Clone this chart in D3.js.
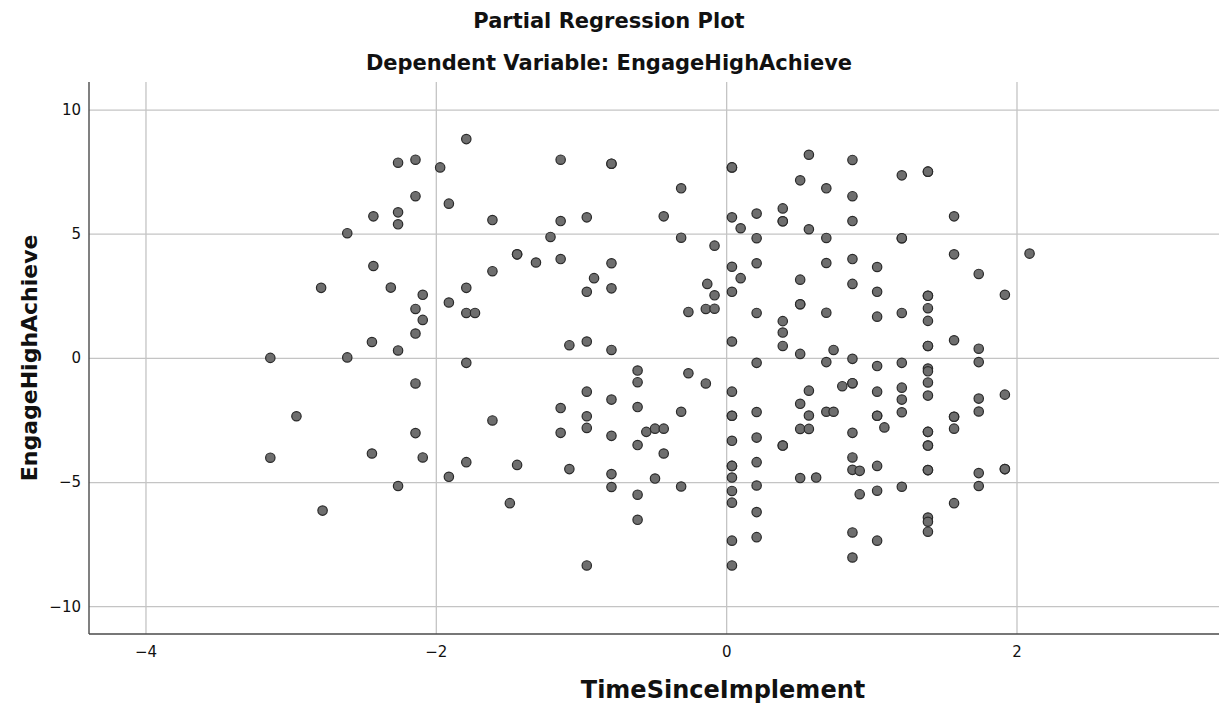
<!DOCTYPE html>
<html>
<head>
<meta charset="utf-8">
<script src="https://cdn.jsdelivr.net/npm/d3@7"></script>
<style>
  body { margin: 0; background: #fff; }
  text { font-family: "DejaVu Sans", sans-serif; fill: #111; }
</style>
</head>
<body>
<div id="chart"></div>
<script>
// partial residuals (x = TimeSinceImplement, y = EngageHighAchieve)
var timeSince = [
  -2.26, -2.14, -1.97, -2.14, -1.91, -2.26, -2.43, -2.26, -2.61, -2.43,
  -2.79, -2.31, -2.09, -1.91, -2.14, -2.09, -2.14, -2.44, -2.26, -3.14,
  -2.61, -2.14, -2.96, -2.14, -3.14, -2.44, -2.09, -1.91, -2.26, -2.78,
  -1.79, -1.14, -0.79, -0.79, -1.61, -1.14, -0.96, -1.21, -1.44, -1.44,
  -1.31, -1.14, -0.79, -1.61, -0.91, -0.96, -0.79, -1.79, -1.79, -1.73,
  -1.08, -0.96, -0.79, -1.79, -0.61, -0.61, -0.96, -0.79, -0.61, -1.14,
  -1.61, -0.96, -0.96, -1.14, -0.79, -0.55, -0.61, -1.79, -1.44, -1.08,
  -0.79, -0.79, -0.61, -1.49, -0.61, -0.96,
  0.57, 0.87, 0.04, 0.04, 0.51, -0.31, 0.69, 0.87, -0.43, 0.04,
  0.21, 0.39, 0.39, 0.39, 0.10, 0.57, 0.87, -0.31, 0.21, 0.69,
  -0.08, 0.04, 0.21, 0.69, 0.87, 0.10, 0.51, -0.13, 0.87, -0.08,
  0.04, 0.51, 0.51, -0.26, -0.14, -0.08, 0.21, 0.69, 0.39, 0.39,
  0.04, 0.39, 0.51, 0.74, 0.21, 0.69, 0.87, -0.26, -0.14, 0.04,
  0.57, 0.80, 0.87, 0.87, -0.31, 0.04, 0.04, 0.21, 0.51, 0.57,
  0.69, 0.74, -0.49, -0.43, 0.04, 0.21, 0.51, 0.57, 0.39, 0.39,
  0.87, -0.43, 0.04, 0.04, 0.21, 0.87, 0.87, 0.92, -0.49, 0.04,
  0.51, 0.62, -0.31, 0.04, 0.21, 0.04, 0.21, 0.21, 0.04, 0.87,
  0.87, 0.04,
  1.21, 1.39, 1.39, 1.57, 1.21, 1.21, 1.04, 1.57, 2.09, 1.74,
  1.04, 1.39, 1.39, 1.92, 1.39, 1.04, 1.21, 1.39, 1.39, 1.39,
  1.57, 1.74, 1.21, 1.74, 1.04, 1.39, 1.39, 1.04, 1.21, 1.21,
  1.39, 1.39, 1.74, 1.92, 1.04, 1.04, 1.09, 1.21, 1.57, 1.57,
  1.57, 1.74, 1.39, 1.39, 1.39, 1.39, 1.04, 1.39, 1.39, 1.74,
  1.92, 1.92, 0.92, 1.04, 1.21, 1.74, 1.57, 1.39, 1.39, 1.39,
  1.04
];
var engageHigh = [
  7.86, 7.98, 7.67, 6.51, 6.21, 5.86, 5.70, 5.38, 5.02, 3.70,
  2.82, 2.83, 2.54, 2.23, 1.97, 1.53, 0.98, 0.64, 0.30, 0.00,
  0.02, -1.03, -2.35, -3.03, -4.02, -3.85, -4.01, -4.79, -5.16, -6.15,
  8.81, 7.98, 7.82, 7.82, 5.55, 5.51, 5.66, 4.87, 4.17, 4.17,
  3.84, 3.98, 3.81, 3.49, 3.21, 2.66, 2.80, 2.82, 1.81, 1.81,
  0.51, 0.66, 0.32, -0.20, -0.51, -0.98, -1.36, -1.68, -1.98, -2.02,
  -2.52, -2.35, -2.82, -3.02, -3.14, -2.98, -3.51, -4.20, -4.31, -4.48,
  -4.68, -5.20, -5.51, -5.85, -6.52, -8.36,
  8.18, 7.97, 7.67, 7.67, 7.15, 6.83, 6.83, 6.51, 5.70, 5.66,
  5.81, 6.02, 5.50, 5.50, 5.22, 5.18, 5.51, 4.84, 4.82, 4.83,
  4.52, 3.67, 3.81, 3.82, 3.98, 3.21, 3.15, 2.98, 2.98, 2.52,
  2.66, 2.16, 2.16, 1.85, 1.97, 1.98, 1.81, 1.82, 1.48, 1.02,
  0.66, 0.48, 0.16, 0.32, -0.20, -0.17, -0.04, -0.62, -1.03, -1.36,
  -1.32, -1.14, -1.02, -1.02, -2.17, -2.33, -2.33, -2.18, -1.85, -2.32,
  -2.17, -2.17, -2.85, -2.85, -3.34, -3.21, -2.86, -2.86, -3.53, -3.53,
  -3.02, -3.85, -4.35, -4.35, -4.20, -4.01, -4.51, -4.55, -4.86, -4.82,
  -4.84, -4.82, -5.18, -5.36, -5.14, -5.83, -6.21, -7.22, -7.36, -7.03,
  -8.04, -8.36,
  7.35, 7.50, 7.50, 5.70, 4.82, 4.82, 3.66, 4.17, 4.20, 3.38,
  2.66, 2.50, 2.50, 2.54, 2.00, 1.66, 1.81, 1.49, 0.48, 0.48,
  0.71, 0.37, -0.20, -0.17, -0.33, -0.43, -0.54, -1.36, -1.20, -1.68,
  -0.99, -1.52, -1.64, -1.48, -2.33, -2.33, -2.80, -2.19, -2.37, -2.37,
  -2.85, -2.16, -2.98, -2.98, -3.53, -3.53, -4.35, -4.52, -4.52, -4.64,
  -4.48, -4.48, -5.49, -5.35, -5.19, -5.16, -5.85, -6.43, -6.60, -7.00,
  -7.36
];
var xTicks = [-4, -2, 0, 2];
var yTicks = [-10, -5, 0, 5, 10];
var xDomain = [-4.389, 3.395];
var yDomain = [-11.12, 11.11];

var titleText = "Partial Regression Plot";
var subtitleText = "Dependent Variable: EngageHighAchieve";
var xLabel = "TimeSinceImplement";
var yLabel = "EngageHighAchieve";

var width = 1221, height = 708;
var plotLeft = 89, plotRight = 1219, plotTop = 82, plotBottom = 634;

var svg = d3.select("#chart")
  .append("svg")
  .attr("width", width)
  .attr("height", height);

var x = d3.scaleLinear().domain(xDomain).range([plotLeft, plotRight]);
var y = d3.scaleLinear().domain(yDomain).range([plotBottom, plotTop]);

// gridlines + tick labels
var xAxis = svg.append("g")
  .attr("transform", "translate(0," + plotBottom + ")")
  .call(d3.axisBottom(x).tickValues(xTicks).tickSize(-(plotBottom - plotTop)).tickPadding(12));
var yAxis = svg.append("g")
  .attr("transform", "translate(" + plotLeft + ",0)")
  .call(d3.axisLeft(y).tickValues(yTicks).tickSize(-(plotRight - plotLeft)).tickPadding(8));

[xAxis, yAxis].forEach(function (g) {
  g.select(".domain").remove();
  g.selectAll(".tick line").attr("stroke", "#c4c4c4").attr("stroke-width", 1.3);
  g.selectAll(".tick text")
    .attr("fill", "#222")
    .style("font-family", "DejaVu Sans, sans-serif")
    .style("font-size", "15px");
});

// axis lines
svg.append("line")
  .attr("x1", plotLeft).attr("x2", plotLeft).attr("y1", plotTop).attr("y2", plotBottom)
  .attr("stroke", "#4a4a4a").attr("stroke-width", 1.4);
svg.append("line")
  .attr("x1", plotLeft).attr("x2", plotRight).attr("y1", plotBottom).attr("y2", plotBottom)
  .attr("stroke", "#4a4a4a").attr("stroke-width", 1.4);

// points
var points = timeSince.map(function (d, i) { return { tx: d, ey: engageHigh[i] }; });
svg.append("g")
  .selectAll("circle")
  .data(points)
  .enter()
  .append("circle")
  .attr("cx", function (d) { return x(d.tx); })
  .attr("cy", function (d) { return y(d.ey); })
  .attr("r", 4.7)
  .attr("fill", "#6e6e6e")
  .attr("stroke", "#2a2a2a")
  .attr("stroke-width", 1.2);

// titles
svg.append("text")
  .attr("x", 609).attr("y", 28)
  .attr("text-anchor", "middle")
  .style("font-size", "21px").style("font-weight", "bold")
  .text(titleText);
svg.append("text")
  .attr("x", 609).attr("y", 70)
  .attr("text-anchor", "middle")
  .style("font-size", "21px").style("font-weight", "bold")
  .text(subtitleText);
svg.append("text")
  .attr("x", 723).attr("y", 698)
  .attr("text-anchor", "middle")
  .style("font-size", "24px").style("font-weight", "bold")
  .text(xLabel);
svg.append("text")
  .attr("transform", "translate(37," + y(0) + ") rotate(-90)")
  .attr("text-anchor", "middle")
  .style("font-size", "22px").style("font-weight", "bold")
  .text(yLabel);
</script>
</body>
</html>
